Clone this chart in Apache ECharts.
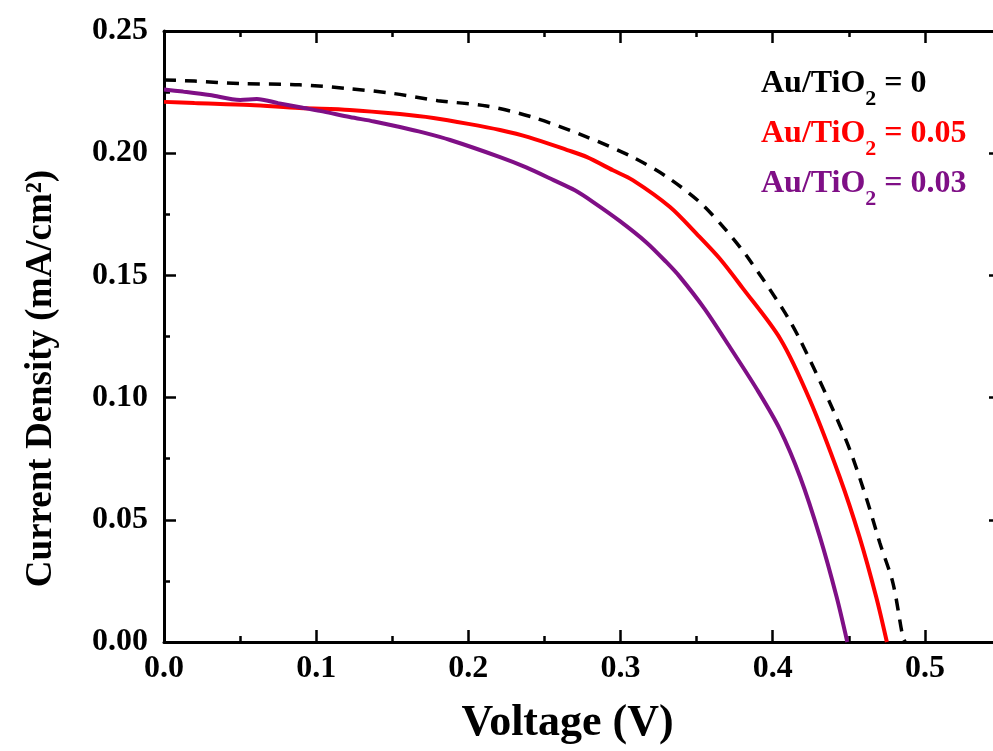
<!DOCTYPE html>
<html>
<head>
<meta charset="utf-8">
<script src="https://cdn.jsdelivr.net/npm/echarts@6/dist/echarts.min.js"></script>
<style>html,body{margin:0;padding:0;background:#fff}#c{width:993px;height:751px}</style>
</head>
<body>
<div id="c"></div>
<script>
var seriesNames = ['Au/TiO2 = 0', 'Au/TiO2 = 0.05', 'Au/TiO2 = 0.03'];
var seriesColors = ['#000000', '#ff0000', '#7f0f86'];

var v0 = [0, 0.02, 0.05, 0.089, 0.12, 0.15, 0.18, 0.212, 0.242, 0.278, 0.308, 0.33, 0.352, 0.37, 0.384, 0.407, 0.418, 0.4376, 0.4507, 0.4619, 0.4704, 0.479, 0.4855, 0.487];
var j0 = [0.2300, 0.2295, 0.2285, 0.2280, 0.2265, 0.2245, 0.2215, 0.2193, 0.2148, 0.2066, 0.1984, 0.1905, 0.1800, 0.1680, 0.1570, 0.1358, 0.1236, 0.0978, 0.0786, 0.0581, 0.0405, 0.0241, 0.0020, 0];

var v1 = [0, 0.02, 0.0565, 0.089, 0.122, 0.155, 0.177, 0.2, 0.2208, 0.24, 0.265, 0.278, 0.295, 0.308, 0.3325, 0.35, 0.365, 0.38, 0.405, 0.4244, 0.444, 0.457, 0.468, 0.475];
var j1 = [0.2210, 0.2205, 0.2197, 0.2185, 0.2177, 0.2160, 0.2144, 0.2120, 0.2095, 0.2065, 0.2013, 0.1984, 0.1930, 0.1890, 0.1780, 0.1670, 0.1570, 0.1450, 0.1240, 0.0990, 0.0675, 0.0430, 0.0184, 0];

var v2 = [0, 0.0125, 0.03, 0.05, 0.061, 0.075, 0.0894, 0.105, 0.122, 0.138, 0.155, 0.17, 0.188, 0.2208, 0.238, 0.256, 0.27, 0.282, 0.2996, 0.317, 0.33, 0.339, 0.355, 0.372, 0.39, 0.4047, 0.418, 0.431, 0.442, 0.449];
var j2 = [0.2261, 0.2252, 0.2238, 0.2218, 0.2222, 0.2205, 0.2188, 0.2170, 0.2148, 0.2130, 0.2107, 0.2085, 0.2054, 0.1984, 0.1942, 0.1890, 0.1848, 0.1800, 0.1722, 0.1635, 0.1555, 0.1494, 0.1365, 0.1205, 0.1030, 0.0870, 0.0675, 0.0430, 0.0184, 0];

var xTicks = ['0.0', '0.1', '0.2', '0.3', '0.4', '0.5'];
var yTicks = ['0.00', '0.05', '0.10', '0.15', '0.20', '0.25'];

function pairs(xs, ys) { return xs.map(function (x, i) { return [x, ys[i]]; }); }

var FONT = '"Liberation Serif", "Times New Roman", serif';
var axisCommon = {
  axisLine: { show: true, onZero: false, lineStyle: { color: '#000', width: 3 } },
  axisTick: { show: true, inside: true, length: 12, lineStyle: { color: '#000', width: 2.5 } },
  minorTick: { show: true, splitNumber: 2, length: 6, lineStyle: { color: '#000', width: 2.5 } },
  splitLine: { show: false }
};

var rich = {};
seriesColors.forEach(function (c, i) {
  rich['b' + i] = { color: c, fontFamily: FONT, fontWeight: 'bold', fontSize: 32, lineHeight: 40, verticalAlign: 'bottom' };
  rich['s' + i] = { color: c, fontFamily: FONT, fontWeight: 'bold', fontSize: 22, lineHeight: 40, verticalAlign: 'bottom', padding: [0, 0, -10, 0] };
});

var chart = echarts.init(document.getElementById('c'), null, { renderer: 'canvas' });
chart.setOption({
  animation: false,
  backgroundColor: '#fff',
  grid: { left: 164, top: 31, width: 837, bottom: 109, containLabel: false, outerBoundsMode: 'none' },
  legend: {
    orient: 'vertical', left: 751, top: 63, itemGap: 8, itemWidth: 0, itemHeight: 0, icon: 'none',
    data: seriesNames.map(function (n) { return { name: n, icon: 'none' }; }),
    formatter: function (name) {
      var i = seriesNames.indexOf(name);
      var parts = name.split('TiO2');
      return '{b' + i + '|' + parts[0] + 'TiO}{s' + i + '|2}{b' + i + '|' + parts[1] + '}';
    },
    textStyle: { rich: rich }
  },
  xAxis: [
    Object.assign({}, axisCommon, {
      type: 'value', position: 'bottom', min: 0, max: 0.55, interval: 0.1,
      name: 'Voltage (V)', nameLocation: 'middle', nameGap: 60,
      nameTextStyle: { fontFamily: FONT, fontWeight: 'bold', fontSize: 44, color: '#000', padding: [0, 30, 0, 0] },
      axisLabel: { margin: 11, color: '#000', fontFamily: FONT, fontWeight: 'bold', fontSize: 32,
        formatter: function (v) { var i = Math.round(v * 10); return (Math.abs(v * 10 - i) < 1e-6 && i < xTicks.length) ? xTicks[i] : ''; } }
    }),
    Object.assign({}, axisCommon, {
      type: 'value', position: 'top', min: 0, max: 0.55, interval: 0.1, axisLabel: { show: false }
    })
  ],
  yAxis: [
    Object.assign({}, axisCommon, {
      type: 'value', position: 'left', min: 0, max: 0.25, interval: 0.05,
      name: 'Current Density (mA/cm²)', nameLocation: 'middle', nameGap: 104,
      nameTextStyle: { fontFamily: FONT, fontWeight: 'bold', fontSize: 37, color: '#000', padding: [0, 84, 0, 0] },
      axisLabel: { margin: 16, color: '#000', fontFamily: FONT, fontWeight: 'bold', fontSize: 32,
        formatter: function (v) { var i = Math.round(v * 20); return yTicks[i] || ''; } }
    }),
    Object.assign({}, axisCommon, {
      type: 'value', position: 'right', min: 0, max: 0.25, interval: 0.05, axisLabel: { show: false }
    })
  ],
  series: [
    { name: seriesNames[0], type: 'line', data: pairs(v0, j0), showSymbol: false, symbol: 'none', smooth: 0.3,
      lineStyle: { color: seriesColors[0], width: 3.5, type: [12, 9] }, itemStyle: { color: seriesColors[0] }, z: 3 },
    { name: seriesNames[1], type: 'line', data: pairs(v1, j1), showSymbol: false, symbol: 'none', smooth: 0.3,
      lineStyle: { color: seriesColors[1], width: 4 }, itemStyle: { color: seriesColors[1] }, z: 2 },
    { name: seriesNames[2], type: 'line', data: pairs(v2, j2), showSymbol: false, symbol: 'none', smooth: 0.3,
      lineStyle: { color: seriesColors[2], width: 4 }, itemStyle: { color: seriesColors[2] }, z: 2 }
  ]
});
</script>
</body>
</html>
